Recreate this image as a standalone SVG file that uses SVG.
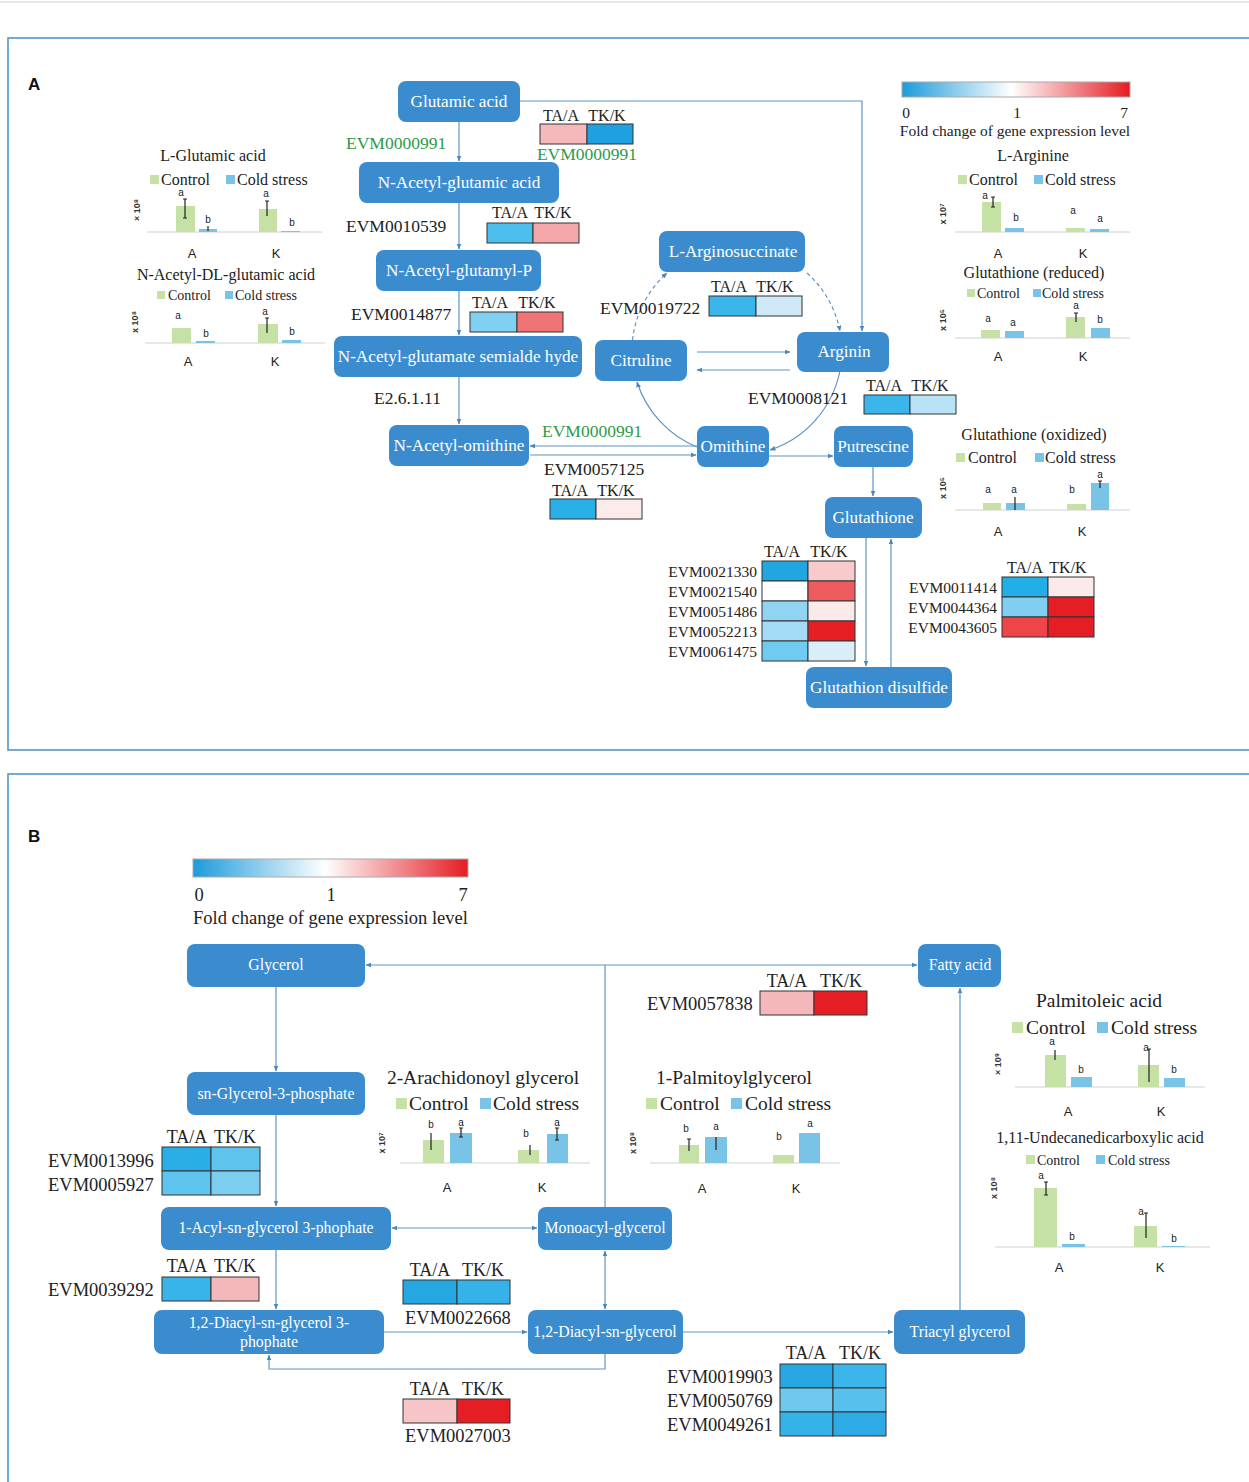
<svg xmlns="http://www.w3.org/2000/svg" width="1249" height="1482" viewBox="0 0 1249 1482">
<defs>
<marker id="ah" viewBox="0 0 10 10" refX="9" refY="5" markerWidth="6" markerHeight="6" markerUnits="userSpaceOnUse" orient="auto-start-reverse"><path d="M0,1 L10,5 L0,9 z" fill="#4a87bd"/></marker>
<linearGradient id="fc" x1="0" x2="1" y1="0" y2="0"><stop offset="0" stop-color="#1c9bdc"/><stop offset="0.48" stop-color="#ffffff"/><stop offset="1" stop-color="#e41c23"/></linearGradient>
</defs>
<style>
.nd{fill:#3a8ccf}
.nt{font-family:"Liberation Serif",serif;font-size:17.2px;fill:#ffffff;text-anchor:middle}
.nb{font-family:"Liberation Serif",serif;font-size:15.8px;fill:#ffffff;text-anchor:middle}
.cn{fill:none;stroke:#5e95c6;stroke-width:1.2}
.ev{font-family:"Liberation Serif",serif;font-size:17.5px;fill:#222}
.evb{font-family:"Liberation Serif",serif;font-size:18.5px;fill:#222}
.gr{font-family:"Liberation Serif",serif;font-size:17.5px;fill:#2e9a4a}
.hd{font-family:"Liberation Serif",serif;font-size:16px;fill:#222;text-anchor:middle}
.hdb{font-family:"Liberation Serif",serif;font-size:18px;fill:#222;text-anchor:middle}
.hc{stroke:#333;stroke-width:1}
.ti{font-family:"Liberation Serif",serif;font-size:16px;fill:#222;text-anchor:middle}
.lg{font-family:"Liberation Serif",serif;font-size:16px;fill:#222}
.lgs{font-family:"Liberation Serif",serif;font-size:14px;fill:#222}
.tib{font-family:"Liberation Serif",serif;font-size:19.5px;fill:#222;text-anchor:middle}
.lgb{font-family:"Liberation Serif",serif;font-size:19.5px;fill:#222}
.ak{font-family:"Liberation Sans",sans-serif;font-size:13px;fill:#222;text-anchor:middle}
.lt{font-family:"Liberation Sans",sans-serif;font-size:10px;fill:#222;text-anchor:middle}
.yl{font-family:"Liberation Sans",sans-serif;font-size:9px;font-weight:bold;fill:#333;text-anchor:middle}
.gb{fill:#c6e1a6}
.bb{fill:#79c3e7}
.ax{stroke:#d0d0d0;stroke-width:1}
.er{stroke:#222;stroke-width:1.2}
.pl{font-family:"Liberation Sans",sans-serif;font-size:17px;font-weight:bold;fill:#111}
.fl{font-family:"Liberation Serif",serif;font-size:15.5px;fill:#222}
</style>
<rect width="1249" height="1482" fill="#ffffff"/>
<line x1="0" y1="2" x2="1249" y2="2" stroke="#cccccc" stroke-width="1"/>
<rect x="8" y="38" width="1260" height="712" fill="none" stroke="#4a8fc4" stroke-width="1.5"/>
<rect x="8" y="774" width="1260" height="720" fill="none" stroke="#4a8fc4" stroke-width="1.5"/>
<text class="pl" x="28" y="90">A</text>
<text class="pl" x="28" y="842">B</text>

<!-- connectors -->
<g id="connectors">
<path class="cn" d="M520,101 H862 V331" marker-end="url(#ah)"/>
<path class="cn" d="M459,122 V161" marker-end="url(#ah)"/>
<path class="cn" d="M459,203 V249" marker-end="url(#ah)"/>
<path class="cn" d="M459,291 V335" marker-end="url(#ah)"/>
<path class="cn" d="M459,377 V424" marker-end="url(#ah)"/>
<path class="cn" d="M697,446 H530" marker-end="url(#ah)"/>
<path class="cn" d="M530,455 H696" marker-end="url(#ah)"/>
<path class="cn" d="M632.5,340 A105,105 0 0 1 667,273" stroke-dasharray="4,3" marker-end="url(#ah)"/>
<path class="cn" d="M807,273 A105,105 0 0 1 840,331" stroke-dasharray="4,3" marker-end="url(#ah)"/>
<path class="cn" d="M839.7,372 A105,105 0 0 1 770,450" marker-end="url(#ah)"/>
<path class="cn" d="M697,447 A105,105 0 0 1 637,382" marker-end="url(#ah)"/>
<path class="cn" d="M697,352 H790" marker-end="url(#ah)"/>
<path class="cn" d="M790,370 H697" marker-end="url(#ah)"/>
<path class="cn" d="M769,456 H833" marker-end="url(#ah)"/>
<path class="cn" d="M873,467 V496" marker-end="url(#ah)"/>
<path class="cn" d="M866,538 V666" marker-end="url(#ah)"/>
<path class="cn" d="M891,667 V539" marker-end="url(#ah)"/>

<path class="cn" d="M605,1207 V965"/>
<path class="cn" d="M605,965 H366" marker-end="url(#ah)"/>
<path class="cn" d="M605,965 H917" marker-end="url(#ah)"/>
<path class="cn" d="M276,987 V1071" marker-end="url(#ah)"/>
<path class="cn" d="M276,1115 V1206" marker-end="url(#ah)"/>
<path class="cn" d="M392,1228 H537" marker-start="url(#ah)" marker-end="url(#ah)"/>
<path class="cn" d="M276,1250 V1309" marker-end="url(#ah)"/>
<path class="cn" d="M384,1332 H527" marker-end="url(#ah)"/>
<path class="cn" d="M605,1251 V1309" marker-start="url(#ah)" marker-end="url(#ah)"/>
<path class="cn" d="M605,1354 V1369 H269 V1355" marker-end="url(#ah)"/>
<path class="cn" d="M683,1332 H893" marker-end="url(#ah)"/>
<path class="cn" d="M960,1310 V988" marker-end="url(#ah)"/>
</g>

<!-- Panel A nodes -->
<g id="n-glutamic"><rect class="nd" x="398" y="81" width="122" height="41" rx="8"/><text class="nt" x="459" y="107">Glutamic acid</text></g>
<g id="n-nagluacid"><rect class="nd" x="359" y="162" width="200" height="41" rx="8"/><text class="nt" x="459" y="188">N-Acetyl-glutamic acid</text></g>
<g id="n-naglup"><rect class="nd" x="376" y="250" width="165" height="41" rx="8"/><text class="nt" x="459" y="276">N-Acetyl-glutamyl-P</text></g>
<g id="n-nasemi"><rect class="nd" x="334" y="336" width="248" height="41" rx="8"/><text class="nt" x="458" y="362">N-Acetyl-glutamate semialde hyde</text></g>
<g id="n-naorn"><rect class="nd" x="389" y="425" width="140" height="41" rx="8"/><text class="nt" x="459" y="451">N-Acetyl-omithine</text></g>
<g id="n-argsuc"><rect class="nd" x="659" y="231" width="146" height="41" rx="8"/><text class="nt" x="733" y="257">L-Arginosuccinate</text></g>
<g id="n-citruline"><rect class="nd" x="595" y="340" width="92" height="41" rx="8"/><text class="nt" x="641" y="366">Citruline</text></g>
<g id="n-arginin"><rect class="nd" x="797" y="332" width="92" height="40" rx="8"/><text class="nt" x="844" y="357">Arginin</text></g>
<g id="n-omithine"><rect class="nd" x="697" y="426" width="72" height="41" rx="8"/><text class="nt" x="733" y="452">Omithine</text></g>
<g id="n-putrescine"><rect class="nd" x="834" y="426" width="79" height="41" rx="8"/><text class="nt" x="873" y="452">Putrescine</text></g>
<g id="n-glutathione"><rect class="nd" x="825" y="497" width="97" height="41" rx="8"/><text class="nt" x="873" y="523">Glutathione</text></g>
<g id="n-gssg"><rect class="nd" x="806" y="667" width="146" height="41" rx="8"/><text class="nt" x="879" y="693">Glutathion disulfide</text></g>

<!-- Panel A labels & heatmaps -->
<g id="labels-a">
<text class="gr" x="346" y="149">EVM0000991</text>
<text class="hd" x="561" y="121">TA/A</text><text class="hd" x="607" y="121">TK/K</text>
<rect class="hc" x="540" y="124" width="47" height="20" fill="#f6b9bb"/><rect class="hc" x="587" y="124" width="46" height="20" fill="#1fa0e0"/>
<text class="gr" x="587" y="160" text-anchor="middle" font-size="14">EVM0000991</text>

<text class="ev" x="346" y="232">EVM0010539</text>
<text class="hd" x="510" y="218">TA/A</text><text class="hd" x="553" y="218">TK/K</text>
<rect class="hc" x="487" y="223" width="46" height="20" fill="#4cbfec"/><rect class="hc" x="533" y="223" width="46" height="20" fill="#f4a6a8"/>

<text class="ev" x="351" y="320">EVM0014877</text>
<text class="hd" x="490" y="308">TA/A</text><text class="hd" x="537" y="308">TK/K</text>
<rect class="hc" x="470" y="312" width="47" height="20" fill="#80d0f1"/><rect class="hc" x="517" y="312" width="46" height="20" fill="#f07475"/>

<text class="ev" x="374" y="404" font-size="16.5">E2.6.1.11</text>
<text class="gr" x="542" y="437">EVM0000991</text>
<text class="ev" x="544" y="475">EVM0057125</text>
<text class="hd" x="570" y="496">TA/A</text><text class="hd" x="616" y="496">TK/K</text>
<rect class="hc" x="550" y="499" width="46" height="20" fill="#2ab0e6"/><rect class="hc" x="596" y="499" width="46" height="20" fill="#fbebeb"/>

<text class="ev" x="600" y="314">EVM0019722</text>
<text class="hd" x="729" y="292">TA/A</text><text class="hd" x="775" y="292">TK/K</text>
<rect class="hc" x="709" y="296" width="47" height="20" fill="#3bb6ea"/><rect class="hc" x="756" y="296" width="46" height="20" fill="#cfe9f7"/>

<text class="ev" x="748" y="404">EVM0008121</text>
<text class="hd" x="884" y="391">TA/A</text><text class="hd" x="930" y="391">TK/K</text>
<rect class="hc" x="864" y="395" width="46" height="19" fill="#3bb6ea"/><rect class="hc" x="910" y="395" width="46" height="19" fill="#b8e2f5"/>

<text class="hd" x="782" y="557">TA/A</text><text class="hd" x="829" y="557">TK/K</text>
<g font-family="Liberation Serif, serif" font-size="15.5" fill="#222" text-anchor="end">
<text x="757" y="577">EVM0021330</text><text x="757" y="597">EVM0021540</text><text x="757" y="617">EVM0051486</text><text x="757" y="637">EVM0052213</text><text x="757" y="657">EVM0061475</text>
</g>
<rect class="hc" x="762" y="561" width="46" height="20" fill="#22a6e2"/><rect class="hc" x="808" y="561" width="47" height="20" fill="#f8cacc"/>
<rect class="hc" x="762" y="581" width="46" height="20" fill="#ffffff"/><rect class="hc" x="808" y="581" width="47" height="20" fill="#ee5b5f"/>
<rect class="hc" x="762" y="601" width="46" height="20" fill="#90d4f1"/><rect class="hc" x="808" y="601" width="47" height="20" fill="#fbeaea"/>
<rect class="hc" x="762" y="621" width="46" height="20" fill="#a2dbf3"/><rect class="hc" x="808" y="621" width="47" height="20" fill="#e61f25"/>
<rect class="hc" x="762" y="641" width="46" height="20" fill="#70cbf0"/><rect class="hc" x="808" y="641" width="47" height="20" fill="#d9eef9"/>

<text class="hd" x="1025" y="573">TA/A</text><text class="hd" x="1068" y="573">TK/K</text>
<g font-family="Liberation Serif, serif" font-size="15.5" fill="#222" text-anchor="end">
<text x="997" y="593">EVM0011414</text><text x="997" y="613">EVM0044364</text><text x="997" y="633">EVM0043605</text>
</g>
<rect class="hc" x="1002" y="577" width="46" height="20" fill="#22aee6"/><rect class="hc" x="1048" y="577" width="46" height="20" fill="#fbeaea"/>
<rect class="hc" x="1002" y="597" width="46" height="20" fill="#80cff0"/><rect class="hc" x="1048" y="597" width="46" height="20" fill="#e51d25"/>
<rect class="hc" x="1002" y="617" width="46" height="20" fill="#ee4548"/><rect class="hc" x="1048" y="617" width="46" height="20" fill="#e51d25"/>

<!-- legend A -->
<rect x="902" y="82" width="228" height="15" fill="url(#fc)" stroke="#aaaaaa" stroke-width="1"/>
<text class="fl" x="906" y="118" text-anchor="middle">0</text>
<text class="fl" x="1017" y="118" text-anchor="middle">1</text>
<text class="fl" x="1124" y="118" text-anchor="middle">7</text>
<text class="fl" x="1015" y="136" text-anchor="middle">Fold change of gene expression level</text>
</g>

<!-- Chart: L-Glutamic acid -->
<g id="chart-lglu">
<text class="ti" x="213" y="161">L-Glutamic acid</text>
<rect class="gb" x="150" y="175" width="9" height="9"/><text class="lg" x="161" y="185">Control</text>
<rect class="bb" x="226" y="175" width="9" height="9"/><text class="lg" x="237" y="185">Cold stress</text>
<text class="yl" transform="translate(140,210) rotate(-90)">× 10⁸</text>
<line class="ax" x1="147" y1="232" x2="322" y2="232"/>
<rect class="gb" x="176" y="206" width="19" height="26"/><rect class="bb" x="199" y="229" width="18" height="3"/>
<rect class="gb" x="259" y="209" width="18" height="23"/><rect class="bb" x="281" y="231" width="19" height="1"/>
<path class="er" d="M185,199 V218 M183,199 h4 M183,218 h4 M208,226 V231 M267,201 V216 M265,201 h4"/>
<text class="lt" x="181" y="196">a</text><text class="lt" x="208" y="223">b</text><text class="lt" x="266" y="197">a</text><text class="lt" x="292" y="226">b</text>
<text class="ak" x="192" y="258">A</text><text class="ak" x="276" y="258">K</text>
</g>

<!-- Chart: N-Acetyl-DL-glutamic acid -->
<g id="chart-nadl">
<text class="ti" x="226" y="280" font-size="13.5">N-Acetyl-DL-glutamic acid</text>
<rect class="gb" x="157" y="291" width="8" height="8"/><text class="lgs" x="168" y="300">Control</text>
<rect class="bb" x="225" y="291" width="8" height="8"/><text class="lgs" x="235" y="300">Cold stress</text>
<text class="yl" transform="translate(138,322) rotate(-90)">x 10⁸</text>
<line class="ax" x1="145" y1="343" x2="325" y2="343"/>
<rect class="gb" x="172" y="328" width="19" height="15"/><rect class="bb" x="196" y="341" width="19" height="2"/>
<rect class="gb" x="258" y="324" width="20" height="19"/><rect class="bb" x="282" y="340" width="19" height="3"/>
<path class="er" d="M267,318 V333 M265,318 h4"/>
<text class="lt" x="178" y="319">a</text><text class="lt" x="206" y="337">b</text><text class="lt" x="265" y="315">a</text><text class="lt" x="292" y="335">b</text>
<text class="ak" x="188" y="366" font-size="12">A</text><text class="ak" x="275" y="366" font-size="12">K</text>
</g>

<!-- Chart: L-Arginine -->
<g id="chart-larg">
<text class="ti" x="1033" y="161">L-Arginine</text>
<rect class="gb" x="958" y="175" width="9" height="9"/><text class="lg" x="969" y="185">Control</text>
<rect class="bb" x="1034" y="175" width="9" height="9"/><text class="lg" x="1045" y="185">Cold stress</text>
<text class="yl" transform="translate(946,214) rotate(-90)">x 10⁷</text>
<line class="ax" x1="955" y1="232" x2="1130" y2="232"/>
<rect class="gb" x="982" y="202" width="19" height="30"/><rect class="bb" x="1005" y="228" width="19" height="4"/>
<rect class="gb" x="1066" y="228" width="19" height="4"/><rect class="bb" x="1090" y="229" width="19" height="3"/>
<path class="er" d="M993,197 V207 M991,197 h4 M991,207 h4"/>
<text class="lt" x="985" y="199" font-size="9">a</text><text class="lt" x="1016" y="221">b</text><text class="lt" x="1073" y="214">a</text><text class="lt" x="1100" y="222">a</text>
<text class="ak" x="998" y="258">A</text><text class="ak" x="1083" y="258">K</text>
</g>

<!-- Chart: Glutathione (reduced) -->
<g id="chart-gshr">
<text class="ti" x="1034" y="278" font-size="13.5">Glutathione (reduced)</text>
<rect class="gb" x="967" y="289" width="8" height="8"/><text class="lgs" x="977" y="298">Control</text>
<rect class="bb" x="1033" y="289" width="8" height="8"/><text class="lgs" x="1042" y="298">Cold stress</text>
<text class="yl" transform="translate(946,320) rotate(-90)">x 10⁵</text>
<line class="ax" x1="955" y1="338" x2="1130" y2="338"/>
<rect class="gb" x="981" y="330" width="19" height="8"/><rect class="bb" x="1005" y="331" width="19" height="7"/>
<rect class="gb" x="1066" y="317" width="19" height="21"/><rect class="bb" x="1091" y="328" width="19" height="10"/>
<path class="er" d="M1076,313 V322 M1074,313 h4"/>
<text class="lt" x="988" y="322">a</text><text class="lt" x="1013" y="326">a</text><text class="lt" x="1076" y="309">a</text><text class="lt" x="1100" y="323">b</text>
<text class="ak" x="998" y="361" font-size="12">A</text><text class="ak" x="1083" y="361" font-size="12">K</text>
</g>

<!-- Chart: Glutathione (oxidized) -->
<g id="chart-gsho">
<text class="ti" x="1034" y="440">Glutathione (oxidized)</text>
<rect class="gb" x="956" y="453" width="9" height="9"/><text class="lg" x="968" y="463">Control</text>
<rect class="bb" x="1035" y="453" width="9" height="9"/><text class="lg" x="1045" y="463">Cold stress</text>
<text class="yl" transform="translate(946,488) rotate(-90)">x 10⁵</text>
<line class="ax" x1="955" y1="510" x2="1130" y2="510"/>
<rect class="gb" x="983" y="503" width="18" height="7"/><rect class="bb" x="1006" y="503" width="19" height="7"/>
<rect class="gb" x="1067" y="504" width="19" height="6"/><rect class="bb" x="1091" y="483" width="18" height="27"/>
<path class="er" d="M1015,497 V510 M1100,481 V488 M1098,481 h4"/>
<text class="lt" x="988" y="493">a</text><text class="lt" x="1014" y="493">a</text><text class="lt" x="1072" y="493">b</text><text class="lt" x="1100" y="478">a</text>
<text class="ak" x="998" y="536">A</text><text class="ak" x="1082" y="536">K</text>
</g>

<!-- Panel B legend -->
<g id="legend-b">
<rect x="193" y="859" width="275" height="18" fill="url(#fc)" stroke="#aaaaaa" stroke-width="1"/>
<text class="evb" x="199" y="901" text-anchor="middle">0</text>
<text class="evb" x="331" y="901" text-anchor="middle">1</text>
<text class="evb" x="463" y="901" text-anchor="middle">7</text>
<text class="evb" x="193" y="924">Fold change of gene expression level</text>
</g>

<!-- Panel B nodes -->
<g id="n-glycerol"><rect class="nd" x="187" y="944" width="178" height="43" rx="8"/><text class="nb" x="276" y="970">Glycerol</text></g>
<g id="n-fattyacid"><rect class="nd" x="918" y="944" width="83" height="43" rx="8"/><text class="nb" x="960" y="970">Fatty acid</text></g>
<g id="n-g3p"><rect class="nd" x="187" y="1072" width="178" height="43" rx="8"/><text class="nb" x="276" y="1099">sn-Glycerol-3-phosphate</text></g>
<g id="n-lpa"><rect class="nd" x="161" y="1207" width="230" height="43" rx="8"/><text class="nb" x="276" y="1233">1-Acyl-sn-glycerol 3-phophate</text></g>
<g id="n-mag"><rect class="nd" x="538" y="1207" width="134" height="43" rx="8"/><text class="nb" x="605" y="1233">Monoacyl-glycerol</text></g>
<g id="n-pa"><rect class="nd" x="154" y="1310" width="230" height="44" rx="8"/><text class="nb" x="269" y="1328">1,2-Diacyl-sn-glycerol 3-</text><text class="nb" x="269" y="1347">phophate</text></g>
<g id="n-dag"><rect class="nd" x="528" y="1310" width="155" height="44" rx="8"/><text class="nb" x="605" y="1337">1,2-Diacyl-sn-glycerol</text></g>
<g id="n-tag"><rect class="nd" x="894" y="1310" width="131" height="44" rx="8"/><text class="nb" x="960" y="1337">Triacyl glycerol</text></g>

<!-- Panel B heatmaps -->
<g id="labels-b">
<text class="hdb" x="787" y="987">TA/A</text><text class="hdb" x="841" y="987">TK/K</text>
<text class="evb" x="647" y="1010">EVM0057838</text>
<rect class="hc" x="760" y="991" width="54" height="24" fill="#f5b8ba"/><rect class="hc" x="814" y="991" width="53" height="24" fill="#e51d25"/>

<text class="hdb" x="187" y="1143">TA/A</text><text class="hdb" x="235" y="1143">TK/K</text>
<text class="evb" x="48" y="1167">EVM0013996</text><text class="evb" x="48" y="1191">EVM0005927</text>
<rect class="hc" x="162" y="1147" width="49" height="24" fill="#2aaee6"/><rect class="hc" x="211" y="1147" width="49" height="24" fill="#5ec4ee"/>
<rect class="hc" x="162" y="1171" width="49" height="24" fill="#5ec4ee"/><rect class="hc" x="211" y="1171" width="49" height="24" fill="#7dcdef"/>

<text class="hdb" x="187" y="1272">TA/A</text><text class="hdb" x="235" y="1272">TK/K</text>
<text class="evb" x="48" y="1296">EVM0039292</text>
<rect class="hc" x="162" y="1277" width="49" height="24" fill="#38b4ea"/><rect class="hc" x="211" y="1277" width="48" height="24" fill="#f5b8ba"/>

<text class="hdb" x="430" y="1276">TA/A</text><text class="hdb" x="483" y="1276">TK/K</text>
<rect class="hc" x="403" y="1280" width="54" height="24" fill="#25a7e2"/><rect class="hc" x="457" y="1280" width="53" height="24" fill="#35b2e8"/>
<text class="evb" x="405" y="1324">EVM0022668</text>

<text class="hdb" x="430" y="1395">TA/A</text><text class="hdb" x="483" y="1395">TK/K</text>
<rect class="hc" x="403" y="1399" width="54" height="24" fill="#f5c5c7"/><rect class="hc" x="457" y="1399" width="53" height="24" fill="#e51d25"/>
<text class="evb" x="405" y="1442">EVM0027003</text>

<text class="hdb" x="806" y="1359">TA/A</text><text class="hdb" x="860" y="1359">TK/K</text>
<text class="evb" x="667" y="1383">EVM0019903</text><text class="evb" x="667" y="1407">EVM0050769</text><text class="evb" x="667" y="1431">EVM0049261</text>
<rect class="hc" x="780" y="1364" width="53" height="24" fill="#27a8e2"/><rect class="hc" x="833" y="1364" width="53" height="24" fill="#3bb5ea"/>
<rect class="hc" x="780" y="1388" width="53" height="24" fill="#6fc9ef"/><rect class="hc" x="833" y="1388" width="53" height="24" fill="#58c0ec"/>
<rect class="hc" x="780" y="1412" width="53" height="24" fill="#35b2e8"/><rect class="hc" x="833" y="1412" width="53" height="24" fill="#2eabe4"/>
</g>

<!-- Chart: 2-Arachidonoyl glycerol -->
<g id="chart-2ag">
<text class="tib" x="483" y="1084">2-Arachidonoyl glycerol</text>
<rect class="gb" x="396" y="1098" width="11" height="11"/><text class="lgb" x="409" y="1110">Control</text>
<rect class="bb" x="480" y="1098" width="11" height="11"/><text class="lgb" x="493" y="1110">Cold stress</text>
<text class="yl" transform="translate(385,1143) rotate(-90)">x 10⁷</text>
<line class="ax" x1="400" y1="1163" x2="590" y2="1163"/>
<rect class="gb" x="423" y="1140" width="21" height="23"/><rect class="bb" x="450" y="1133" width="22" height="30"/>
<rect class="gb" x="518" y="1150" width="21" height="13"/><rect class="bb" x="547" y="1134" width="21" height="29"/>
<path class="er" d="M431,1133 V1150 M461,1128 V1137 M459,1128 h4 M459,1137 h4 M530,1145 V1155 M557,1128 V1140 M555,1128 h4 M555,1140 h4"/>
<text class="lt" x="431" y="1128" font-size="11">b</text><text class="lt" x="461" y="1126" font-size="11">a</text><text class="lt" x="526" y="1137" font-size="11">b</text><text class="lt" x="557" y="1126" font-size="11">a</text>
<text class="ak" x="447" y="1192" font-size="14">A</text><text class="ak" x="542" y="1192" font-size="14">K</text>
</g>

<!-- Chart: 1-Palmitoylglycerol -->
<g id="chart-1pg">
<text class="tib" x="734" y="1084">1-Palmitoylglycerol</text>
<rect class="gb" x="646" y="1098" width="11" height="11"/><text class="lgb" x="660" y="1110">Control</text>
<rect class="bb" x="731" y="1098" width="11" height="11"/><text class="lgb" x="745" y="1110">Cold stress</text>
<text class="yl" transform="translate(636,1143) rotate(-90)">x 10⁸</text>
<line class="ax" x1="650" y1="1163" x2="840" y2="1163"/>
<rect class="gb" x="679" y="1145" width="20" height="18"/><rect class="bb" x="705" y="1137" width="22" height="26"/>
<rect class="gb" x="773" y="1155" width="21" height="8"/><rect class="bb" x="799" y="1133" width="21" height="30"/>
<path class="er" d="M689,1139 V1151 M687,1139 h4 M716,1137 V1150"/>
<text class="lt" x="686" y="1132" font-size="11">b</text><text class="lt" x="716" y="1130" font-size="11">a</text><text class="lt" x="779" y="1140" font-size="11">b</text><text class="lt" x="810" y="1127" font-size="11">a</text>
<text class="ak" x="702" y="1193" font-size="14">A</text><text class="ak" x="796" y="1193" font-size="14">K</text>
</g>

<!-- Chart: Palmitoleic acid -->
<g id="chart-pal">
<text class="tib" x="1099" y="1007">Palmitoleic acid</text>
<rect class="gb" x="1012" y="1022" width="11" height="11"/><text class="lgb" x="1026" y="1034">Control</text>
<rect class="bb" x="1097" y="1022" width="11" height="11"/><text class="lgb" x="1111" y="1034">Cold stress</text>
<text class="yl" transform="translate(1001,1064) rotate(-90)" font-size="10">× 10⁹</text>
<line class="ax" x1="1015" y1="1087" x2="1205" y2="1087"/>
<rect class="gb" x="1045" y="1055" width="21" height="32"/><rect class="bb" x="1071" y="1077" width="21" height="10"/>
<rect class="gb" x="1138" y="1065" width="21" height="22"/><rect class="bb" x="1164" y="1078" width="21" height="9"/>
<path class="er" d="M1055,1050 V1060 M1149,1049 V1082 M1147,1049 h4"/>
<text class="lt" x="1052" y="1045" font-size="11">a</text><text class="lt" x="1081" y="1073" font-size="11">b</text><text class="lt" x="1146" y="1051" font-size="11">a</text><text class="lt" x="1174" y="1073" font-size="11">b</text>
<text class="ak" x="1068" y="1116" font-size="14">A</text><text class="ak" x="1161" y="1116" font-size="14">K</text>
</g>

<!-- Chart: 1,11-Undecanedicarboxylic acid -->
<g id="chart-und">
<text class="ti" x="1100" y="1143" font-size="13.5">1,11-Undecanedicarboxylic acid</text>
<rect class="gb" x="1026" y="1155" width="9" height="9"/><text class="lgs" x="1037" y="1165" font-size="15.5">Control</text>
<rect class="bb" x="1096" y="1155" width="9" height="9"/><text class="lgs" x="1108" y="1165" font-size="15.5">Cold stress</text>
<text class="yl" transform="translate(997,1188) rotate(-90)">x 10⁸</text>
<line class="ax" x1="995" y1="1247" x2="1210" y2="1247"/>
<rect class="gb" x="1034" y="1188" width="23" height="59"/><rect class="bb" x="1062" y="1244" width="23" height="3"/>
<rect class="gb" x="1134" y="1226" width="23" height="21"/><rect class="bb" x="1162" y="1246" width="23" height="1"/>
<path class="er" d="M1046,1182 V1195 M1044,1182 h4 M1044,1195 h4 M1146,1213 V1238 M1144,1213 h4"/>
<text class="lt" x="1041" y="1179">a</text><text class="lt" x="1072" y="1240">b</text><text class="lt" x="1141" y="1215">a</text><text class="lt" x="1174" y="1242">b</text>
<text class="ak" x="1059" y="1272" font-size="12">A</text><text class="ak" x="1160" y="1272" font-size="12">K</text>
</g>
</svg>
